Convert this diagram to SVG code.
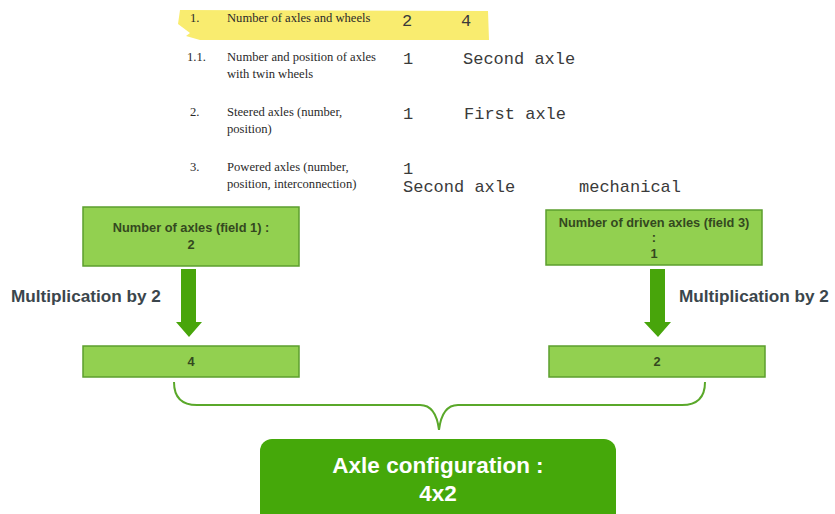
<svg xmlns="http://www.w3.org/2000/svg" width="835" height="514" viewBox="0 0 835 514">
<style>
.serif{font-family:"Liberation Serif","Times New Roman",serif;font-size:12.6px;fill:#2a2a2a}
.mono{font-family:"Liberation Mono","Courier New",monospace;font-size:17px;fill:#3a3a3a}
.box{fill:#92d050;stroke:#5c9f2e;stroke-width:1.5}
.btxt{font-family:"Liberation Sans",Arial,sans-serif;font-size:12.8px;font-weight:bold;fill:#34481f;text-anchor:middle}
.lbl{font-family:"Liberation Sans",Arial,sans-serif;font-size:17.2px;font-weight:bold;fill:#3b464c}
.arrow{fill:#48a50b}
.big{font-family:"Liberation Sans",Arial,sans-serif;font-size:22.5px;font-weight:bold;fill:#ffffff;text-anchor:middle}
</style>
<rect width="835" height="514" fill="#ffffff"/>
<g id="table">
<path d="M180 10 L488 11 L489 40 L200 40 L186 36 L190 33 L178 24 Z" fill="#f9ec6f"/>
<text class="serif" x="190" y="22">1.</text>
<text class="serif" x="227" y="22">Number of axles and wheels</text>
<text class="mono" x="402" y="26">2</text>
<text class="mono" x="461" y="26">4</text>
<text class="serif" x="187" y="61">1.1.</text>
<text class="serif" x="227" y="61">Number and position of axles</text>
<text class="serif" x="227" y="78">with twin wheels</text>
<text class="mono" x="403" y="64">1</text>
<text class="mono" x="463" y="64">Second axle</text>
<text class="serif" x="190" y="116">2.</text>
<text class="serif" x="227" y="116">Steered axles (number,</text>
<text class="serif" x="227" y="133">position)</text>
<text class="mono" x="403" y="119">1</text>
<text class="mono" x="464" y="119">First axle</text>
<text class="serif" x="190" y="171">3.</text>
<text class="serif" x="227" y="171">Powered axles (number,</text>
<text class="serif" x="227" y="188">position, interconnection)</text>
<text class="mono" x="403" y="174">1</text>
<text class="mono" x="403" y="192">Second axle</text>
<text class="mono" x="579" y="192">mechanical</text>
</g>
<g id="n_axles">
<rect class="box" x="83" y="207" width="216" height="59"/>
<text class="btxt" x="191" y="232">Number of axles (field 1) :</text>
<text class="btxt" x="191" y="249">2</text>
</g>
<g id="n_driven">
<rect class="box" x="546" y="210" width="216" height="55"/>
<text class="btxt" x="654" y="227">Number of driven axles (field 3)</text>
<text class="btxt" x="654" y="242">:</text>
<text class="btxt" x="654" y="258">1</text>
</g>
<g id="n_four">
<rect class="box" x="83" y="346" width="216" height="31"/>
<text class="btxt" x="191" y="366">4</text>
</g>
<g id="n_two">
<rect class="box" x="549" y="346" width="216" height="31"/>
<text class="btxt" x="657" y="366">2</text>
</g>
<g id="n_config">
<rect x="260" y="439" width="356" height="90" rx="12" fill="#45a80a"/>
<text class="big" x="438" y="473">Axle configuration :</text>
<text class="big" x="438" y="501">4x2</text>
</g>
<g id="connectors">
<polygon class="arrow" points="181,269 196,269 196,322 202,322 189,337 176,322 181,322"/>
<polygon class="arrow" points="650,269 665,269 665,322 671,322 658,337 644,322 650,322"/>
<text class="lbl" x="11" y="302">Multiplication by 2</text>
<text class="lbl" x="679" y="302">Multiplication by 2</text>
<path d="M174 382 Q174 405 197 405 L420 405 Q436 405 439 430 Q442 405 458 405 L682 405 Q705 405 705 382" fill="none" stroke="#5aa82a" stroke-width="2"/>
</g>
</svg>
